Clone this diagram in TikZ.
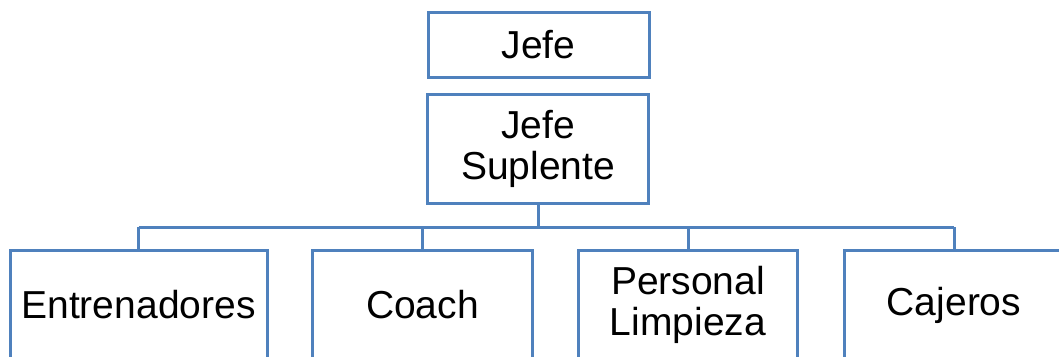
\documentclass[tikz,border=0pt]{standalone}
\usepackage{fontspec}
\setmainfont{Liberation Sans}
\definecolor{boxblue}{RGB}{79,129,189}
\begin{document}
\begin{tikzpicture}[x=1pt,y=-1pt,
  box/.style={draw=boxblue, line width=3pt, fill=white, align=center, inner sep=0pt, outer sep=0pt,
    font=\fontsize{39}{41}\selectfont, text=black},
  conn/.style={draw=boxblue, line width=3pt}]
\useasboundingbox (0,0) rectangle (1059,356);
\clip (0,0) rectangle (1059,356);
\node[box, minimum width=221pt, minimum height=65pt] (jefe) at (538.5,44.5) {Jefe};
\node[box, minimum width=221pt, minimum height=109pt] (sup) at (538,148.5) {Jefe\\Suplente};
\coordinate (bus) at (0,227);
\node[box, minimum width=257pt, minimum height=110pt] (ent) at (138.5,305) {Entrenadores};
\node[box, minimum width=220pt, minimum height=110pt] (coach) at (422.5,305) {Coach};
\node[box, minimum width=219pt, minimum height=110pt] (limp) at (688,305) {Personal\\Limpieza};
\node[box, minimum width=220pt, minimum height=110pt] (caj) at (954,305) {Cajeros};
\draw[conn] (sup.south) -- (sup.south |- bus);
\draw[conn] (ent.north |- bus) -- (caj.north |- bus);
\draw[conn] (ent.north |- bus) -- (ent.north);
\draw[conn] (coach.north |- bus) -- (coach.north);
\draw[conn] (limp.north |- bus) -- (limp.north);
\draw[conn] (caj.north |- bus) -- (caj.north);
\end{tikzpicture}
\end{document}
